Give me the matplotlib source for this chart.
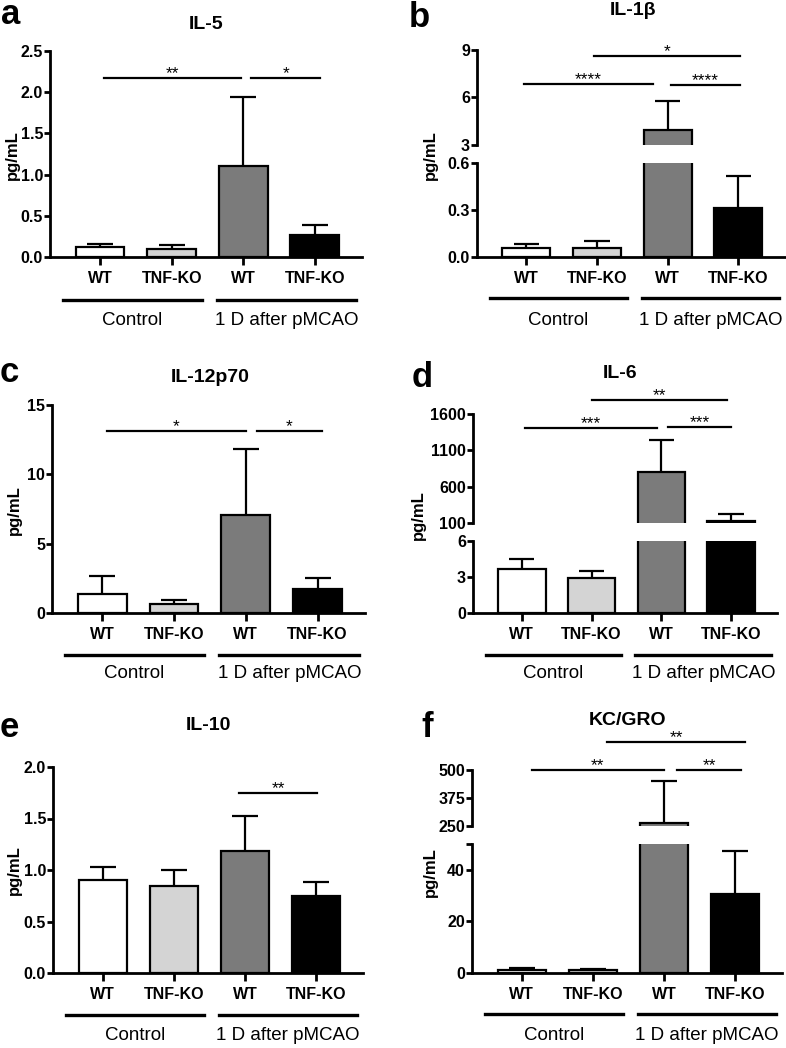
import numpy as np
import matplotlib.pyplot as plt
from matplotlib.transforms import blended_transform_factory

plt.rcParams['font.family'] = ['Liberation Sans', 'DejaVu Sans']

W_PX, H_PX = 786, 1048

# ---- data -------------------------------------------------------------
groups = ["WT", "TNF-KO", "WT", "TNF-KO"]
group_names = ["Control", "1 D after pMCAO"]
bar_colors = ["white", "#d4d4d4", "#7b7b7b", "black"]

il5_mean = [0.12, 0.10, 1.10, 0.27]
il5_err = [0.04, 0.05, 0.84, 0.12]
il5_sig = [(0.06, 1.97, 2.17, "**"), (2.11, 3.08, 2.17, "*")]
il5_ticks = [0, 0.5, 1.0, 1.5, 2.0, 2.5]
il5_labels = ["0.0", "0.5", "1.0", "1.5", "2.0", "2.5"]

il1b_mean = [0.06, 0.06, 3.95, 0.31]
il1b_err = [0.02, 0.04, 1.81, 0.21]
il1b_sig = [(-0.04, 1.79, 6.83, "****"), (2.04, 3.03, 6.8, "****"), (0.95, 3.03, 8.62, "*")]
il1b_low_ticks = [0, 0.3, 0.6]
il1b_low_labels = ["0.0", "0.3", "0.6"]
il1b_up_ticks = [3, 6, 9]
il1b_up_labels = ["3", "6", "9"]

il12_mean = [1.39, 0.62, 7.08, 1.70]
il12_err = [1.30, 0.34, 4.72, 0.84]
il12_sig = [(0.06, 2.0, 13.1, "*"), (2.15, 3.06, 13.1, "*")]
il12_ticks = [0, 5, 10, 15]
il12_labels = ["0", "5", "10", "15"]

il6_mean = [3.68, 2.90, 795, 123]
il6_err = [0.82, 0.60, 448, 105]
il6_sig = [(0.04, 1.94, 1403, "***"), (2.1, 3.0, 1417, "***"), (1.0, 2.95, 1792, "**")]
il6_low_ticks = [0, 3, 6]
il6_low_labels = ["0", "3", "6"]
il6_up_ticks = [100, 600, 1100, 1600]
il6_up_labels = ["100", "600", "1100", "1600"]

il10_mean = [0.90, 0.84, 1.18, 0.75]
il10_err = [0.126, 0.157, 0.34, 0.137]
il10_sig = [(1.92, 3.02, 1.75, "**")]
il10_ticks = [0, 0.5, 1.0, 1.5, 2.0]
il10_labels = ["0.0", "0.5", "1.0", "1.5", "2.0"]

kc_mean = [1.3, 1.1, 265, 30.7]
kc_err = [0.6, 0.4, 187, 16.6]
kc_sig = [(0.14, 2.0, 500, "**"), (2.18, 3.09, 500, "**"), (1.2, 3.14, 624, "**")]
kc_low_ticks = [0, 20, 40, 50]
kc_low_labels = ["0", "20", "40", ""]
kc_up_ticks = [250, 375, 500]
kc_up_labels = ["250", "375", "500"]

group_spans = [(-0.52, 1.42), (1.63, 3.58)]

# ---- helpers ----------------------------------------------------------
fig = plt.figure(figsize=(W_PX / 100, H_PX / 100), dpi=100)


def fx(px):
    return px / W_PX


def fy(px):
    return 1 - px / H_PX


def add_ax(left, right, top, bottom):
    return fig.add_axes([fx(left), fy(bottom), (right - left) / W_PX, (bottom - top) / H_PX])


def style(ax, ylim, yticks, ylabels, bottom=True):
    ax.set_xlim(-0.7, 3.66)
    ax.set_ylim(*ylim)
    ax.spines[['top', 'right']].set_visible(False)
    ax.spines['left'].set_linewidth(2)
    ax.set_yticks(yticks, ylabels, fontweight='bold', fontsize=11.5)
    ax.tick_params(axis='y', length=4, width=2, pad=1)
    if bottom:
        ax.spines['bottom'].set_linewidth(2)
        ax.set_xticks(range(4), groups, fontweight='bold', fontsize=11.5)
        ax.tick_params(axis='x', length=6, width=2, pad=4)
    else:
        ax.spines['bottom'].set_visible(False)
        ax.set_xticks([])


def draw_bars(ax, means, errs):
    x = np.arange(4)
    means = np.array(means)
    tops = means + np.array(errs)
    ax.bar(x, means, width=0.68, color=bar_colors, edgecolor='black', linewidth=1.6, zorder=2)
    ax.vlines(x, means, tops, color='black', lw=1.6, zorder=3)
    ax.hlines(tops, x - 0.18, x + 0.18, color='black', lw=1.6, zorder=3)


def brackets(ax, sig):
    for x1, x2, y, lab in sig:
        ax.plot([x1, x2], [y, y], color='black', lw=1.6, clip_on=False)
        ax.text((x1 + x2) / 2, y, lab, ha='center', va='baseline', fontsize=12.5)


def group_labels(ax, y_line, y_text):
    tr = blended_transform_factory(ax.transData, fig.transFigure)
    for (x1, x2), name in zip(group_spans, group_names):
        ax.plot([x1, x2], [fy(y_line)] * 2, transform=tr, color='black', lw=2.4, clip_on=False)
        ax.text((x1 + x2) / 2, fy(y_text), name, transform=tr, ha='center', va='center', fontsize=13.5)


def decorate(letter, lx, ly, title, tx, ty, yl_x, yl_y):
    fig.text(fx(lx), fy(ly), letter, fontsize=25, fontweight='bold', va='baseline', ha='left')
    fig.text(fx(tx), fy(ty), title, fontsize=14, fontweight='bold', va='baseline', ha='center')
    fig.text(fx(yl_x), fy(yl_y), "pg/mL", fontsize=12, fontweight='bold', rotation=90,
             va='center', ha='center')


def simple_panel(box, means, errs, ylim, ticks, labels, sig, line_y, text_y):
    ax = add_ax(*box)
    style(ax, ylim, ticks, labels)
    draw_bars(ax, means, errs)
    brackets(ax, sig)
    group_labels(ax, line_y, text_y)


def broken_panel(left, right, up_box, low_box, means, errs, up_lim, up_ticks, up_labels,
                 low_lim, low_ticks, low_labels, sig, line_y, text_y):
    ax_up = add_ax(left, right, *up_box)
    ax_low = add_ax(left, right, *low_box)
    style(ax_up, up_lim, up_ticks, up_labels, bottom=False)
    style(ax_low, low_lim, low_ticks, low_labels)
    draw_bars(ax_up, means, errs)
    draw_bars(ax_low, means, errs)
    brackets(ax_up, sig)
    group_labels(ax_low, line_y, text_y)


# ---- panels -----------------------------------------------------------
simple_panel((50, 362, 51, 257), il5_mean, il5_err, (0, 2.5), il5_ticks, il5_labels,
             il5_sig, 300, 320)
decorate("a", 1, 24, "IL-5", 206, 29, 12, 155)

broken_panel(477, 785, (50, 145), (163, 257), il1b_mean, il1b_err, (3, 9), il1b_up_ticks,
             il1b_up_labels, (0, 0.6), il1b_low_ticks, il1b_low_labels, il1b_sig, 298, 320)
decorate("b", 409, 27, "IL-1β", 633, 15, 430, 155)

simple_panel((52, 365, 405, 613), il12_mean, il12_err, (0, 15), il12_ticks, il12_labels,
             il12_sig, 655, 673)
decorate("c", 0, 382, "IL-12p70", 210, 382, 14, 510)

broken_panel(473, 777, (414, 523), (541, 613), il6_mean, il6_err, (100, 1600), il6_up_ticks,
             il6_up_labels, (0, 6), il6_low_ticks, il6_low_labels, il6_sig, 655, 673)
decorate("d", 412, 387, "IL-6", 620, 378, 418, 515)

simple_panel((53, 363, 767, 973), il10_mean, il10_err, (0, 2.0), il10_ticks, il10_labels,
             il10_sig, 1015, 1035)
decorate("e", 0, 737, "IL-10", 208, 730, 14, 870)

broken_panel(472, 782, (770, 826), (844, 973), kc_mean, kc_err, (250, 500), kc_up_ticks,
             kc_up_labels, (0, 50), kc_low_ticks, kc_low_labels, kc_sig, 1014, 1035)
decorate("f", 421, 737, "KC/GRO", 628, 725, 430, 872)

fig.savefig("out.png", dpi=100)
